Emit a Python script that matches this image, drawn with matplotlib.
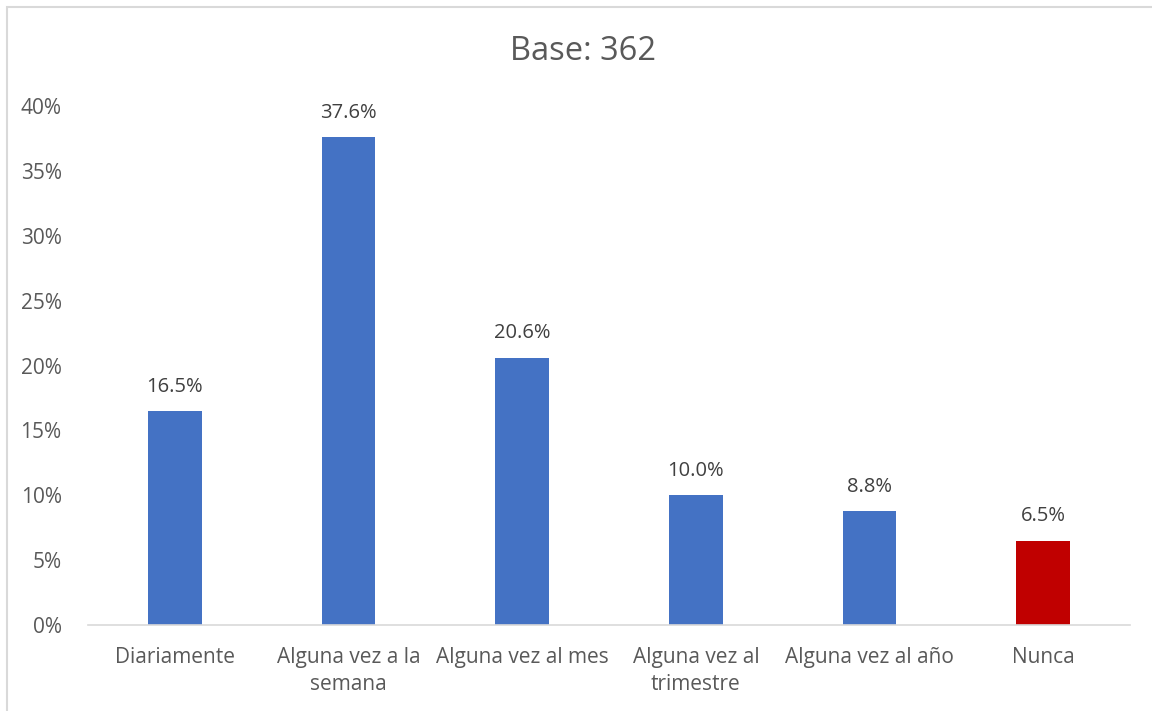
import matplotlib
matplotlib.use("Agg")
import matplotlib.pyplot as plt
from matplotlib.patches import Rectangle
from matplotlib.ticker import FuncFormatter

categories = ["Diariamente", "Alguna vez a la\nsemana", "Alguna vez al mes",
              "Alguna vez al\ntrimestre", "Alguna vez al año", "Nunca"]
values = [16.5, 37.6, 20.6, 10.0, 8.8, 6.5]
colors = ["#4472C4"] * 5 + ["#C00000"]
yticks = [0, 5, 10, 15, 20, 25, 30, 35, 40]
title = "Base: 362"

plt.rcParams['font.family'] = ['Open Sans', 'DejaVu Sans']
txt = "#595959"

fig = plt.figure(figsize=(11.52, 7.11), dpi=100)
fig.patches.append(Rectangle((7/1152, -0.1), 1.2, 1 - 7/711 + 0.1, transform=fig.transFigure,
                             fill=False, edgecolor="#D9D9D9", linewidth=1.5))
ax = fig.add_axes([88/1152, 86/711, (1130-88)/1152, (625-106)/711])
x = range(len(categories))
ax.bar(x, values, width=0.31, color=colors, zorder=2)
for xi, v in zip(x, values):
    ax.text(xi, v + 1.1, f"{v:.1f}%", ha="center", va="bottom", fontsize=14.5, color="#404040")
ax.set_xlim(-0.5, len(categories) - 0.5)
ax.set_ylim(0, 40)
ax.set_yticks(yticks)
ax.yaxis.set_major_formatter(FuncFormatter(lambda v, p: f"{v:.0f}%"))
ax.set_xticks(list(x))
ax.set_xticklabels(categories, fontsize=15, color=txt, linespacing=1.38)
for lab in ax.get_yticklabels():
    lab.set_fontsize(15)
    lab.set_color(txt)
ax.tick_params(axis="both", length=0)
ax.tick_params(axis="x", pad=16)
ax.tick_params(axis="y", pad=19)
for s in ["top", "right", "left"]:
    ax.spines[s].set_visible(False)
ax.spines["bottom"].set_color("#D9D9D9")
ax.spines["bottom"].set_linewidth(1.2)
fig.text(583/1152, 1 - 52/711, title, ha="center", va="center", fontsize=23.5, color=txt)
fig.savefig("out.png", dpi=100)
